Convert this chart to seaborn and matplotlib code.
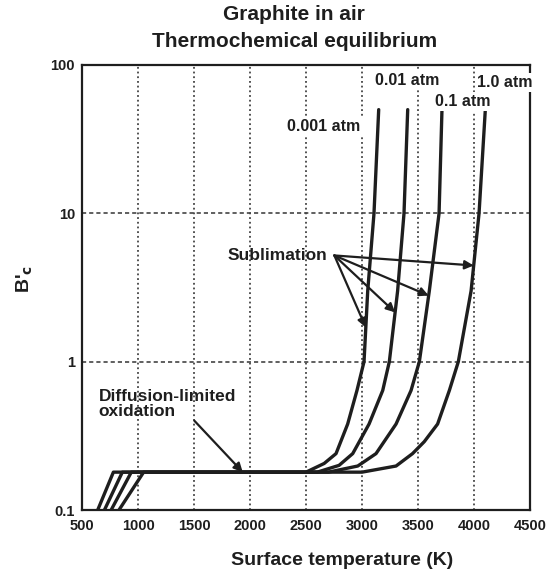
import numpy as np
import pandas as pd
import matplotlib
matplotlib.use("Agg")
import matplotlib.pyplot as plt
import seaborn as sns

# Pressure levels and their B'c vs. surface-temperature curves
pressures = ["0.001 atm", "0.01 atm", "0.1 atm", "1.0 atm"]

T_0001 = [640, 780, 2500, 2662, 2768, 2872, 2955, 3018, 3051, 3107, 3149]
B_0001 = [0.1, 0.18, 0.18, 0.206, 0.24, 0.38, 0.64, 1.0, 3.0, 10, 50]

T_001 = [700, 860, 2600, 2795, 2917, 3063, 3185, 3244, 3318, 3375, 3408]
B_001 = [0.1, 0.18, 0.18, 0.20, 0.24, 0.38, 0.64, 1.0, 3.0, 10, 50]

T_01 = [760, 940, 2700, 2962, 3125, 3304, 3438, 3512, 3601, 3688, 3714]
B_01 = [0.1, 0.18, 0.18, 0.198, 0.24, 0.38, 0.64, 1.0, 3.0, 10, 50]

T_1 = [830, 1050, 3000, 3304, 3451, 3556, 3675, 3780, 3860, 3974, 4045, 4101]
B_1 = [0.1, 0.18, 0.18, 0.198, 0.24, 0.289, 0.38, 0.64, 1.0, 3.0, 10, 50]

curves_T = [T_0001, T_001, T_01, T_1]
curves_B = [B_0001, B_001, B_01, B_1]

# Label anchor points for each pressure curve
label_T = [2661, 3402, 3900, 4277]
label_B = [38.7, 79, 56.5, 75.9]

# Arrow tips: B'c value on each curve pointed at by the "Sublimation" arrows
sublim_B = [1.7, 2.15, 2.79, 4.45]
sublim_from = (2753, 5.2)
diff_tip_T = 1935
diff_from = (1503, 0.40)

xticks = [500, 1000, 1500, 2000, 2500, 3000, 3500, 4000, 4500]
yticks = [0.1, 1, 10, 100]
ytick_labels = ["0.1", "1", "10", "100"]

rows = []
for p, Ts, Bs in zip(pressures, curves_T, curves_B):
    for i, (t, b) in enumerate(zip(Ts, Bs)):
        rows.append({"pressure": p, "T": t, "B": b, "order": i})
df = pd.DataFrame(rows)

sns.set_style("white")
plt.rcParams["font.family"] = ["Liberation Sans", "DejaVu Sans"]
plt.rcParams["font.weight"] = "bold"
plt.rcParams["mathtext.default"] = "bf"

ink = "#1e1e1e"
fig = plt.figure(figsize=(5.49, 5.75), dpi=100)
ax = fig.add_axes([0.1494, 0.1130, 0.816, 0.774])

ax.set_yscale("log")
ax.set_xlim(500, 4500)
ax.set_ylim(0.1, 100)

# Grid: dotted verticals, dashed horizontals
for xv in xticks[1:-1]:
    ax.axvline(xv, color="#444444", lw=1.3, ls=(0, (1, 1.6)), zorder=1)
for yv in [1, 10]:
    ax.axhline(yv, color="#444444", lw=1.2, ls=(0, (2.5, 1.8)), zorder=1)

sns.lineplot(data=df, x="T", y="B", hue="pressure", units="pressure",
             estimator=None, sort=False, palette=[ink] * 4, lw=2.4,
             legend=False, ax=ax, zorder=3)

for p, t, b in zip(pressures, label_T, label_B):
    ax.text(t, b, p, ha="center", va="center", fontsize=11.5, fontweight="bold",
            color=ink, zorder=5,
            bbox=dict(boxstyle="square,pad=0.12", fc="white", ec="none"))

# Sublimation arrows toward each curve
arrow_kw = dict(arrowstyle="-|>", lw=1.6, color=ink, mutation_scale=13,
                shrinkA=0, shrinkB=0)
for Ts, Bs, bt in zip(curves_T, curves_B, sublim_B):
    up = np.array(Bs) >= 0.18
    lt = np.log10(np.array(Bs)[up][1:])
    tt = np.array(Ts)[up][1:]
    tip_T = np.interp(np.log10(bt), lt, tt)
    ax.annotate("", xy=(tip_T, bt), xytext=sublim_from, arrowprops=arrow_kw, zorder=4)
ax.text(sublim_from[0] - 60, sublim_from[1], "Sublimation", ha="right", va="center",
        fontsize=12.5, fontweight="bold", color=ink)

# Diffusion-limited plateau arrow
ax.annotate("", xy=(diff_tip_T, B_0001[2]), xytext=diff_from, arrowprops=arrow_kw, zorder=4)
ax.text(650, 0.515, "Diffusion-limited\noxidation", ha="left", va="center",
        fontsize=12.5, fontweight="bold", color=ink, linespacing=1.0)

ax.set_xticks(xticks)
ax.set_xticklabels([str(x) for x in xticks])
ax.set_yticks(yticks)
ax.set_yticklabels(ytick_labels)
ax.minorticks_off()
ax.tick_params(axis="both", labelsize=10.5, colors=ink, width=1.4)
ax.tick_params(axis="y", direction="inout", length=8, pad=1)
ax.tick_params(axis="x", direction="inout", length=7, pad=3)
for lab in ax.get_xticklabels() + ax.get_yticklabels():
    lab.set_fontweight("bold")

for s in ax.spines.values():
    s.set_color(ink)
    s.set_linewidth(1.6)

ax.set_xlabel("Surface temperature (K)", fontsize=14, fontweight="bold",
              color=ink)
ax.xaxis.set_label_coords(0.58, -0.095)
ax.set_ylabel("B'$_{c}$", fontsize=14, fontweight="bold", color=ink)
ax.yaxis.set_label_coords(-0.105, 0.52)

fig.text(0.536, 0.974, "Graphite in air", ha="center", va="center",
         fontsize=15, fontweight="bold", color=ink)
fig.text(0.536, 0.928, "Thermochemical equilibrium", ha="center", va="center",
         fontsize=15, fontweight="bold", color=ink)

fig.savefig("out.png", dpi=100, facecolor="white")
